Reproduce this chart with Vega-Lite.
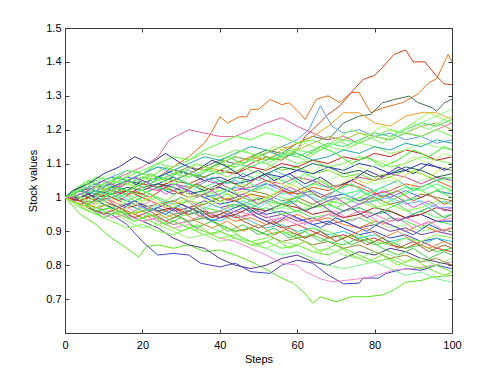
{
"$schema":"https://vega.github.io/schema/vega-lite/v6.json",
"width":387,"height":305,
"autosize":{"type":"none"},
"padding":{"left":65,"top":28,"right":46,"bottom":42},
"background":"white",
"config":{"font":"Liberation Sans","view":{"stroke":"#3a3a3a","strokeWidth":1},
"axis":{"domain":false,"grid":false,"tickColor":"#3a3a3a","tickSize":-4,"labelFontSize":11,"labelColor":"#000","titleFontSize":11,"titleFontWeight":"normal","titleColor":"#000","labelFlush":false},
"axisX":{"labelPadding":10,"titlePadding":3},
"axisY":{"labelPadding":8,"titlePadding":7}},
"resolve":{"axis":{"x":"independent","y":"independent"}},
"layer":[
{"data":{"values":[
{"s":10,"x":0,"y":1},{"s":10,"x":4,"y":1.01},{"s":10,"x":8,"y":1.03},{"s":10,"x":12,"y":1.02},{"s":10,"x":16,"y":1.05},{"s":10,"x":20,"y":1.07},{"s":10,"x":24,"y":1.06},{"s":10,"x":28,"y":1.09},{"s":10,"x":32,"y":1.12},{"s":10,"x":36,"y":1.16},{"s":10,"x":38,"y":1.195},{"s":10,"x":40,"y":1.238},{"s":10,"x":42,"y":1.22},{"s":10,"x":45,"y":1.238},{"s":10,"x":47,"y":1.238},{"s":10,"x":48,"y":1.26},{"s":10,"x":50,"y":1.26},{"s":10,"x":53,"y":1.289},{"s":10,"x":56,"y":1.274},{"s":10,"x":58,"y":1.279},{"s":10,"x":61,"y":1.245},{"s":10,"x":62,"y":1.23},{"s":10,"x":65,"y":1.29},{"s":10,"x":68,"y":1.3},{"s":10,"x":71,"y":1.28},{"s":10,"x":74,"y":1.31},{"s":10,"x":76,"y":1.31},{"s":10,"x":79,"y":1.25},{"s":10,"x":82,"y":1.264},{"s":10,"x":87,"y":1.279},{"s":10,"x":91,"y":1.304},{"s":10,"x":94,"y":1.338},{"s":10,"x":96,"y":1.35},{"s":10,"x":99,"y":1.422},{"s":10,"x":100,"y":1.4},
{"s":11,"x":0,"y":1},{"s":11,"x":4,"y":0.99},{"s":11,"x":8,"y":1.01},{"s":11,"x":12,"y":1},{"s":11,"x":16,"y":1.02},{"s":11,"x":20,"y":1.01},{"s":11,"x":24,"y":1.03},{"s":11,"x":28,"y":1.05},{"s":11,"x":32,"y":1.04},{"s":11,"x":36,"y":1.06},{"s":11,"x":40,"y":1.08},{"s":11,"x":44,"y":1.07},{"s":11,"x":48,"y":1.1},{"s":11,"x":52,"y":1.12},{"s":11,"x":56,"y":1.11},{"s":11,"x":60,"y":1.14},{"s":11,"x":62,"y":1.18},{"s":11,"x":64,"y":1.2},{"s":11,"x":68,"y":1.245},{"s":11,"x":71,"y":1.27},{"s":11,"x":74,"y":1.31},{"s":11,"x":77,"y":1.348},{"s":11,"x":80,"y":1.36},{"s":11,"x":82,"y":1.383},{"s":11,"x":85,"y":1.422},{"s":11,"x":88,"y":1.435},{"s":11,"x":90,"y":1.4},{"s":11,"x":93,"y":1.4},{"s":11,"x":96,"y":1.358},{"s":11,"x":98,"y":1.335},{"s":11,"x":100,"y":1.333},
{"s":12,"x":0,"y":1},{"s":12,"x":4,"y":1.02},{"s":12,"x":8,"y":1.01},{"s":12,"x":12,"y":1.03},{"s":12,"x":16,"y":1.05},{"s":12,"x":20,"y":1.04},{"s":12,"x":24,"y":1.06},{"s":12,"x":28,"y":1.08},{"s":12,"x":32,"y":1.07},{"s":12,"x":36,"y":1.09},{"s":12,"x":40,"y":1.11},{"s":12,"x":44,"y":1.1},{"s":12,"x":48,"y":1.12},{"s":12,"x":52,"y":1.14},{"s":12,"x":56,"y":1.13},{"s":12,"x":60,"y":1.16},{"s":12,"x":64,"y":1.18},{"s":12,"x":68,"y":1.17},{"s":12,"x":72,"y":1.22},{"s":12,"x":76,"y":1.24},{"s":12,"x":79,"y":1.245},{"s":12,"x":82,"y":1.279},{"s":12,"x":85,"y":1.289},{"s":12,"x":89,"y":1.299},{"s":12,"x":91,"y":1.281},{"s":12,"x":95,"y":1.264},{"s":12,"x":96,"y":1.254},{"s":12,"x":98,"y":1.279},{"s":12,"x":100,"y":1.29},
{"s":13,"x":0,"y":1},{"s":13,"x":4,"y":0.95},{"s":13,"x":8,"y":0.92},{"s":13,"x":12,"y":0.88},{"s":13,"x":16,"y":0.85},{"s":13,"x":19,"y":0.824},{"s":13,"x":21,"y":0.855},{"s":13,"x":24,"y":0.86},{"s":13,"x":28,"y":0.85},{"s":13,"x":32,"y":0.86},{"s":13,"x":36,"y":0.84},{"s":13,"x":40,"y":0.845},{"s":13,"x":44,"y":0.83},{"s":13,"x":47,"y":0.816},{"s":13,"x":50,"y":0.8},{"s":13,"x":53,"y":0.781},{"s":13,"x":56,"y":0.762},{"s":13,"x":59,"y":0.747},{"s":13,"x":62,"y":0.717},{"s":13,"x":64,"y":0.688},{"s":13,"x":66,"y":0.707},{"s":13,"x":70,"y":0.692},{"s":13,"x":74,"y":0.707},{"s":13,"x":78,"y":0.707},{"s":13,"x":82,"y":0.712},{"s":13,"x":85,"y":0.727},{"s":13,"x":88,"y":0.75},{"s":13,"x":92,"y":0.755},{"s":13,"x":95,"y":0.765},{"s":13,"x":100,"y":0.77},
{"s":14,"x":0,"y":1},{"s":14,"x":4,"y":0.98},{"s":14,"x":8,"y":0.96},{"s":14,"x":12,"y":0.95},{"s":14,"x":16,"y":0.92},{"s":14,"x":20,"y":0.87},{"s":14,"x":24,"y":0.83},{"s":14,"x":28,"y":0.835},{"s":14,"x":32,"y":0.83},{"s":14,"x":35,"y":0.806},{"s":14,"x":40,"y":0.795},{"s":14,"x":44,"y":0.806},{"s":14,"x":48,"y":0.781},{"s":14,"x":53,"y":0.776},{"s":14,"x":56,"y":0.8},{"s":14,"x":60,"y":0.815},{"s":14,"x":64,"y":0.806},{"s":14,"x":68,"y":0.771},{"s":14,"x":72,"y":0.745},{"s":14,"x":76,"y":0.747},{"s":14,"x":77,"y":0.762},{"s":14,"x":81,"y":0.762},{"s":14,"x":83,"y":0.776},{"s":14,"x":88,"y":0.79},{"s":14,"x":92,"y":0.785},{"s":14,"x":96,"y":0.8},{"s":14,"x":100,"y":0.79},
{"s":15,"x":0,"y":1},{"s":15,"x":4,"y":0.99},{"s":15,"x":8,"y":0.97},{"s":15,"x":12,"y":0.96},{"s":15,"x":16,"y":0.94},{"s":15,"x":20,"y":0.95},{"s":15,"x":24,"y":0.93},{"s":15,"x":28,"y":0.91},{"s":15,"x":32,"y":0.92},{"s":15,"x":36,"y":0.9},{"s":15,"x":40,"y":0.88},{"s":15,"x":44,"y":0.87},{"s":15,"x":48,"y":0.85},{"s":15,"x":52,"y":0.83},{"s":15,"x":56,"y":0.806},{"s":15,"x":60,"y":0.8},{"s":15,"x":62,"y":0.781},{"s":15,"x":66,"y":0.76},{"s":15,"x":69,"y":0.751},{"s":15,"x":73,"y":0.756},{"s":15,"x":76,"y":0.76},{"s":15,"x":79,"y":0.766},{"s":15,"x":82,"y":0.775},{"s":15,"x":85,"y":0.786},{"s":15,"x":90,"y":0.79},{"s":15,"x":95,"y":0.8},{"s":15,"x":100,"y":0.81},
{"s":16,"x":0,"y":1},{"s":16,"x":4,"y":1.01},{"s":16,"x":8,"y":0.99},{"s":16,"x":12,"y":0.97},{"s":16,"x":16,"y":0.95},{"s":16,"x":20,"y":0.93},{"s":16,"x":24,"y":0.91},{"s":16,"x":28,"y":0.88},{"s":16,"x":32,"y":0.86},{"s":16,"x":36,"y":0.85},{"s":16,"x":40,"y":0.82},{"s":16,"x":44,"y":0.8},{"s":16,"x":48,"y":0.79},{"s":16,"x":52,"y":0.8},{"s":16,"x":56,"y":0.82},{"s":16,"x":60,"y":0.83},{"s":16,"x":64,"y":0.81},{"s":16,"x":68,"y":0.8},{"s":16,"x":72,"y":0.82},{"s":16,"x":76,"y":0.84},{"s":16,"x":80,"y":0.83},{"s":16,"x":84,"y":0.85},{"s":16,"x":88,"y":0.84},{"s":16,"x":92,"y":0.82},{"s":16,"x":96,"y":0.81},{"s":16,"x":100,"y":0.8},
{"s":17,"x":0,"y":1},{"s":17,"x":4,"y":0.99},{"s":17,"x":8,"y":0.97},{"s":17,"x":12,"y":0.98},{"s":17,"x":16,"y":0.96},{"s":17,"x":20,"y":0.94},{"s":17,"x":24,"y":0.95},{"s":17,"x":28,"y":0.93},{"s":17,"x":32,"y":0.91},{"s":17,"x":36,"y":0.92},{"s":17,"x":40,"y":0.9},{"s":17,"x":44,"y":0.88},{"s":17,"x":48,"y":0.87},{"s":17,"x":52,"y":0.85},{"s":17,"x":56,"y":0.83},{"s":17,"x":60,"y":0.84},{"s":17,"x":64,"y":0.82},{"s":17,"x":68,"y":0.8},{"s":17,"x":72,"y":0.79},{"s":17,"x":76,"y":0.8},{"s":17,"x":80,"y":0.81},{"s":17,"x":84,"y":0.79},{"s":17,"x":88,"y":0.77},{"s":17,"x":92,"y":0.78},{"s":17,"x":96,"y":0.76},{"s":17,"x":100,"y":0.75},
{"s":18,"x":0,"y":1},{"s":18,"x":4,"y":1.01},{"s":18,"x":8,"y":1.03},{"s":18,"x":12,"y":1.05},{"s":18,"x":16,"y":1.07},{"s":18,"x":20,"y":1.09},{"s":18,"x":24,"y":1.12},{"s":18,"x":27,"y":1.17},{"s":18,"x":32,"y":1.2},{"s":18,"x":36,"y":1.19},{"s":18,"x":40,"y":1.18},{"s":18,"x":44,"y":1.18},{"s":18,"x":48,"y":1.2},{"s":18,"x":52,"y":1.22},{"s":18,"x":56,"y":1.235},{"s":18,"x":60,"y":1.21},{"s":18,"x":64,"y":1.19},{"s":18,"x":68,"y":1.17},{"s":18,"x":72,"y":1.18},{"s":18,"x":76,"y":1.16},{"s":18,"x":80,"y":1.18},{"s":18,"x":84,"y":1.17},{"s":18,"x":88,"y":1.19},{"s":18,"x":92,"y":1.18},{"s":18,"x":96,"y":1.2},{"s":18,"x":100,"y":1.22},
{"s":19,"x":0,"y":1},{"s":19,"x":4,"y":1.01},{"s":19,"x":8,"y":1.03},{"s":19,"x":12,"y":1.02},{"s":19,"x":16,"y":1.04},{"s":19,"x":20,"y":1.06},{"s":19,"x":24,"y":1.05},{"s":19,"x":28,"y":1.07},{"s":19,"x":32,"y":1.09},{"s":19,"x":36,"y":1.08},{"s":19,"x":40,"y":1.1},{"s":19,"x":44,"y":1.12},{"s":19,"x":48,"y":1.11},{"s":19,"x":52,"y":1.13},{"s":19,"x":56,"y":1.15},{"s":19,"x":60,"y":1.17},{"s":19,"x":63,"y":1.2},{"s":19,"x":66,"y":1.27},{"s":19,"x":69,"y":1.21},{"s":19,"x":72,"y":1.19},{"s":19,"x":76,"y":1.2},{"s":19,"x":80,"y":1.18},{"s":19,"x":84,"y":1.19},{"s":19,"x":88,"y":1.17},{"s":19,"x":92,"y":1.18},{"s":19,"x":96,"y":1.16},{"s":19,"x":100,"y":1.17},
{"s":20,"x":0,"y":1},{"s":20,"x":4,"y":0.99},{"s":20,"x":8,"y":1.01},{"s":20,"x":12,"y":1.03},{"s":20,"x":16,"y":1.02},{"s":20,"x":20,"y":1.04},{"s":20,"x":24,"y":1.06},{"s":20,"x":28,"y":1.05},{"s":20,"x":32,"y":1.07},{"s":20,"x":36,"y":1.09},{"s":20,"x":40,"y":1.08},{"s":20,"x":44,"y":1.1},{"s":20,"x":48,"y":1.12},{"s":20,"x":52,"y":1.11},{"s":20,"x":56,"y":1.14},{"s":20,"x":60,"y":1.16},{"s":20,"x":64,"y":1.18},{"s":20,"x":68,"y":1.21},{"s":20,"x":72,"y":1.25},{"s":20,"x":76,"y":1.25},{"s":20,"x":80,"y":1.22},{"s":20,"x":84,"y":1.21},{"s":20,"x":88,"y":1.24},{"s":20,"x":92,"y":1.25},{"s":20,"x":96,"y":1.25},{"s":20,"x":100,"y":1.23},
{"s":21,"x":0,"y":1},{"s":21,"x":4,"y":0.98},{"s":21,"x":8,"y":0.97},{"s":21,"x":12,"y":0.95},{"s":21,"x":16,"y":0.96},{"s":21,"x":20,"y":0.94},{"s":21,"x":24,"y":0.92},{"s":21,"x":28,"y":0.93},{"s":21,"x":32,"y":0.91},{"s":21,"x":36,"y":0.89},{"s":21,"x":40,"y":0.9},{"s":21,"x":44,"y":0.88},{"s":21,"x":48,"y":0.86},{"s":21,"x":52,"y":0.87},{"s":21,"x":56,"y":0.85},{"s":21,"x":60,"y":0.86},{"s":21,"x":64,"y":0.84},{"s":21,"x":68,"y":0.83},{"s":21,"x":72,"y":0.85},{"s":21,"x":76,"y":0.83},{"s":21,"x":80,"y":0.81},{"s":21,"x":84,"y":0.82},{"s":21,"x":88,"y":0.8},{"s":21,"x":92,"y":0.79},{"s":21,"x":96,"y":0.8},{"s":21,"x":100,"y":0.78},
{"s":22,"x":0,"y":1},{"s":22,"x":4,"y":1.01},{"s":22,"x":8,"y":0.99},{"s":22,"x":12,"y":1},{"s":22,"x":16,"y":0.98},{"s":22,"x":20,"y":0.96},{"s":22,"x":24,"y":0.97},{"s":22,"x":28,"y":0.95},{"s":22,"x":32,"y":0.93},{"s":22,"x":36,"y":0.94},{"s":22,"x":40,"y":0.92},{"s":22,"x":44,"y":0.9},{"s":22,"x":48,"y":0.91},{"s":22,"x":52,"y":0.89},{"s":22,"x":56,"y":0.87},{"s":22,"x":60,"y":0.88},{"s":22,"x":64,"y":0.86},{"s":22,"x":68,"y":0.87},{"s":22,"x":72,"y":0.85},{"s":22,"x":76,"y":0.86},{"s":22,"x":80,"y":0.84},{"s":22,"x":84,"y":0.82},{"s":22,"x":88,"y":0.83},{"s":22,"x":92,"y":0.81},{"s":22,"x":96,"y":0.82},{"s":22,"x":100,"y":0.8},
{"s":23,"x":0,"y":1},{"s":23,"x":4,"y":0.97},{"s":23,"x":8,"y":0.95},{"s":23,"x":12,"y":0.96},{"s":23,"x":16,"y":0.93},{"s":23,"x":20,"y":0.91},{"s":23,"x":24,"y":0.92},{"s":23,"x":28,"y":0.9},{"s":23,"x":32,"y":0.88},{"s":23,"x":36,"y":0.89},{"s":23,"x":40,"y":0.87},{"s":23,"x":44,"y":0.88},{"s":23,"x":48,"y":0.86},{"s":23,"x":52,"y":0.85},{"s":23,"x":56,"y":0.87},{"s":23,"x":60,"y":0.86},{"s":23,"x":64,"y":0.84},{"s":23,"x":68,"y":0.85},{"s":23,"x":72,"y":0.83},{"s":23,"x":76,"y":0.82},{"s":23,"x":80,"y":0.84},{"s":23,"x":84,"y":0.83},{"s":23,"x":88,"y":0.81},{"s":23,"x":92,"y":0.82},{"s":23,"x":96,"y":0.8},{"s":23,"x":100,"y":0.82},
{"s":24,"x":0,"y":1},{"s":24,"x":4,"y":1.02},{"s":24,"x":8,"y":1.03},{"s":24,"x":12,"y":1.01},{"s":24,"x":16,"y":1.02},{"s":24,"x":20,"y":1},{"s":24,"x":24,"y":0.98},{"s":24,"x":28,"y":0.99},{"s":24,"x":32,"y":0.97},{"s":24,"x":36,"y":0.95},{"s":24,"x":40,"y":0.96},{"s":24,"x":44,"y":0.94},{"s":24,"x":48,"y":0.95},{"s":24,"x":52,"y":0.93},{"s":24,"x":56,"y":0.91},{"s":24,"x":60,"y":0.92},{"s":24,"x":64,"y":0.9},{"s":24,"x":68,"y":0.88},{"s":24,"x":72,"y":0.89},{"s":24,"x":76,"y":0.87},{"s":24,"x":80,"y":0.88},{"s":24,"x":84,"y":0.86},{"s":24,"x":88,"y":0.85},{"s":24,"x":92,"y":0.87},{"s":24,"x":96,"y":0.85},{"s":24,"x":100,"y":0.84},
{"s":25,"x":0,"y":1},{"s":25,"x":4,"y":0.99},{"s":25,"x":8,"y":0.96},{"s":25,"x":12,"y":0.97},{"s":25,"x":16,"y":0.95},{"s":25,"x":20,"y":0.96},{"s":25,"x":24,"y":0.94},{"s":25,"x":28,"y":0.92},{"s":25,"x":32,"y":0.93},{"s":25,"x":36,"y":0.94},{"s":25,"x":40,"y":0.92},{"s":25,"x":44,"y":0.9},{"s":25,"x":48,"y":0.91},{"s":25,"x":52,"y":0.89},{"s":25,"x":56,"y":0.9},{"s":25,"x":60,"y":0.88},{"s":25,"x":64,"y":0.89},{"s":25,"x":68,"y":0.87},{"s":25,"x":72,"y":0.86},{"s":25,"x":76,"y":0.88},{"s":25,"x":80,"y":0.86},{"s":25,"x":84,"y":0.87},{"s":25,"x":88,"y":0.85},{"s":25,"x":92,"y":0.86},{"s":25,"x":96,"y":0.84},{"s":25,"x":100,"y":0.85},
{"s":26,"x":0,"y":1},{"s":26,"x":4,"y":1.01},{"s":26,"x":8,"y":1.03},{"s":26,"x":12,"y":1.04},{"s":26,"x":16,"y":1.02},{"s":26,"x":20,"y":1.05},{"s":26,"x":24,"y":1.03},{"s":26,"x":28,"y":1.01},{"s":26,"x":32,"y":1.02},{"s":26,"x":36,"y":1},{"s":26,"x":40,"y":0.98},{"s":26,"x":44,"y":0.99},{"s":26,"x":48,"y":0.97},{"s":26,"x":52,"y":0.95},{"s":26,"x":56,"y":0.96},{"s":26,"x":60,"y":0.94},{"s":26,"x":64,"y":0.92},{"s":26,"x":68,"y":0.93},{"s":26,"x":72,"y":0.91},{"s":26,"x":76,"y":0.89},{"s":26,"x":80,"y":0.9},{"s":26,"x":84,"y":0.88},{"s":26,"x":88,"y":0.89},{"s":26,"x":92,"y":0.87},{"s":26,"x":96,"y":0.88},{"s":26,"x":100,"y":0.86},
{"s":27,"x":0,"y":1},{"s":27,"x":4,"y":0.98},{"s":27,"x":8,"y":0.99},{"s":27,"x":12,"y":0.97},{"s":27,"x":16,"y":0.98},{"s":27,"x":20,"y":0.96},{"s":27,"x":24,"y":0.97},{"s":27,"x":28,"y":0.95},{"s":27,"x":32,"y":0.96},{"s":27,"x":36,"y":0.94},{"s":27,"x":40,"y":0.93},{"s":27,"x":44,"y":0.95},{"s":27,"x":48,"y":0.93},{"s":27,"x":52,"y":0.91},{"s":27,"x":56,"y":0.92},{"s":27,"x":60,"y":0.9},{"s":27,"x":64,"y":0.91},{"s":27,"x":68,"y":0.89},{"s":27,"x":72,"y":0.9},{"s":27,"x":76,"y":0.88},{"s":27,"x":80,"y":0.89},{"s":27,"x":84,"y":0.87},{"s":27,"x":88,"y":0.88},{"s":27,"x":92,"y":0.86},{"s":27,"x":96,"y":0.88},{"s":27,"x":100,"y":0.87},
{"s":28,"x":0,"y":1},{"s":28,"x":4,"y":0.97},{"s":28,"x":8,"y":0.95},{"s":28,"x":12,"y":0.93},{"s":28,"x":16,"y":0.91},{"s":28,"x":20,"y":0.92},{"s":28,"x":24,"y":0.9},{"s":28,"x":28,"y":0.89},{"s":28,"x":32,"y":0.91},{"s":28,"x":36,"y":0.9},{"s":28,"x":40,"y":0.88},{"s":28,"x":44,"y":0.89},{"s":28,"x":48,"y":0.87},{"s":28,"x":52,"y":0.88},{"s":28,"x":56,"y":0.9},{"s":28,"x":60,"y":0.89},{"s":28,"x":64,"y":0.91},{"s":28,"x":68,"y":0.9},{"s":28,"x":72,"y":0.88},{"s":28,"x":76,"y":0.89},{"s":28,"x":80,"y":0.87},{"s":28,"x":84,"y":0.86},{"s":28,"x":88,"y":0.88},{"s":28,"x":92,"y":0.87},{"s":28,"x":96,"y":0.89},{"s":28,"x":100,"y":0.88},
{"s":29,"x":0,"y":1},{"s":29,"x":4,"y":1.02},{"s":29,"x":8,"y":1},{"s":29,"x":12,"y":1.01},{"s":29,"x":16,"y":0.99},{"s":29,"x":20,"y":0.97},{"s":29,"x":24,"y":0.98},{"s":29,"x":28,"y":0.96},{"s":29,"x":32,"y":0.97},{"s":29,"x":36,"y":0.99},{"s":29,"x":40,"y":0.97},{"s":29,"x":44,"y":0.98},{"s":29,"x":48,"y":0.96},{"s":29,"x":52,"y":0.94},{"s":29,"x":56,"y":0.95},{"s":29,"x":60,"y":0.93},{"s":29,"x":64,"y":0.94},{"s":29,"x":68,"y":0.92},{"s":29,"x":72,"y":0.93},{"s":29,"x":76,"y":0.91},{"s":29,"x":80,"y":0.92},{"s":29,"x":84,"y":0.9},{"s":29,"x":88,"y":0.91},{"s":29,"x":92,"y":0.89},{"s":29,"x":96,"y":0.9},{"s":29,"x":100,"y":0.89},
{"s":30,"x":0,"y":1},{"s":30,"x":4,"y":1.03},{"s":30,"x":8,"y":1.05},{"s":30,"x":12,"y":1.07},{"s":30,"x":16,"y":1.05},{"s":30,"x":20,"y":1.06},{"s":30,"x":24,"y":1.04},{"s":30,"x":28,"y":1.02},{"s":30,"x":32,"y":1.03},{"s":30,"x":36,"y":1.01},{"s":30,"x":40,"y":1.02},{"s":30,"x":44,"y":1},{"s":30,"x":48,"y":0.98},{"s":30,"x":52,"y":0.99},{"s":30,"x":56,"y":0.97},{"s":30,"x":60,"y":0.96},{"s":30,"x":64,"y":0.98},{"s":30,"x":68,"y":0.96},{"s":30,"x":72,"y":0.94},{"s":30,"x":76,"y":0.95},{"s":30,"x":80,"y":0.93},{"s":30,"x":84,"y":0.91},{"s":30,"x":88,"y":0.92},{"s":30,"x":92,"y":0.9},{"s":30,"x":96,"y":0.91},{"s":30,"x":100,"y":0.9},
{"s":31,"x":0,"y":1},{"s":31,"x":4,"y":0.99},{"s":31,"x":8,"y":0.97},{"s":31,"x":12,"y":0.98},{"s":31,"x":16,"y":0.96},{"s":31,"x":20,"y":0.94},{"s":31,"x":24,"y":0.95},{"s":31,"x":28,"y":0.97},{"s":31,"x":32,"y":0.96},{"s":31,"x":36,"y":0.94},{"s":31,"x":40,"y":0.95},{"s":31,"x":44,"y":0.93},{"s":31,"x":48,"y":0.94},{"s":31,"x":52,"y":0.92},{"s":31,"x":56,"y":0.93},{"s":31,"x":60,"y":0.95},{"s":31,"x":64,"y":0.93},{"s":31,"x":68,"y":0.94},{"s":31,"x":72,"y":0.92},{"s":31,"x":76,"y":0.91},{"s":31,"x":80,"y":0.93},{"s":31,"x":84,"y":0.92},{"s":31,"x":88,"y":0.9},{"s":31,"x":92,"y":0.92},{"s":31,"x":96,"y":0.9},{"s":31,"x":100,"y":0.91},
{"s":32,"x":0,"y":1},{"s":32,"x":4,"y":1.01},{"s":32,"x":8,"y":0.99},{"s":32,"x":12,"y":0.97},{"s":32,"x":16,"y":0.98},{"s":32,"x":20,"y":1},{"s":32,"x":24,"y":0.98},{"s":32,"x":28,"y":0.99},{"s":32,"x":32,"y":0.97},{"s":32,"x":36,"y":0.95},{"s":32,"x":40,"y":0.96},{"s":32,"x":44,"y":0.98},{"s":32,"x":48,"y":0.96},{"s":32,"x":52,"y":0.97},{"s":32,"x":56,"y":0.95},{"s":32,"x":60,"y":0.96},{"s":32,"x":64,"y":0.94},{"s":32,"x":68,"y":0.95},{"s":32,"x":72,"y":0.93},{"s":32,"x":76,"y":0.94},{"s":32,"x":80,"y":0.92},{"s":32,"x":84,"y":0.94},{"s":32,"x":88,"y":0.93},{"s":32,"x":92,"y":0.91},{"s":32,"x":96,"y":0.93},{"s":32,"x":100,"y":0.92},
{"s":33,"x":0,"y":1},{"s":33,"x":4,"y":1.02},{"s":33,"x":8,"y":1.04},{"s":33,"x":12,"y":1.03},{"s":33,"x":16,"y":1.05},{"s":33,"x":20,"y":1.03},{"s":33,"x":24,"y":1.04},{"s":33,"x":28,"y":1.06},{"s":33,"x":32,"y":1.04},{"s":33,"x":36,"y":1.02},{"s":33,"x":40,"y":1.03},{"s":33,"x":44,"y":1.01},{"s":33,"x":48,"y":0.99},{"s":33,"x":52,"y":1},{"s":33,"x":56,"y":0.98},{"s":33,"x":60,"y":0.99},{"s":33,"x":64,"y":0.97},{"s":33,"x":68,"y":0.98},{"s":33,"x":72,"y":0.96},{"s":33,"x":76,"y":0.97},{"s":33,"x":80,"y":0.95},{"s":33,"x":84,"y":0.96},{"s":33,"x":88,"y":0.94},{"s":33,"x":92,"y":0.95},{"s":33,"x":96,"y":0.93},{"s":33,"x":100,"y":0.93},
{"s":34,"x":0,"y":1},{"s":34,"x":4,"y":0.98},{"s":34,"x":8,"y":0.96},{"s":34,"x":12,"y":0.94},{"s":34,"x":16,"y":0.95},{"s":34,"x":20,"y":0.93},{"s":34,"x":24,"y":0.94},{"s":34,"x":28,"y":0.92},{"s":34,"x":32,"y":0.93},{"s":34,"x":36,"y":0.95},{"s":34,"x":40,"y":0.94},{"s":34,"x":44,"y":0.96},{"s":34,"x":48,"y":0.95},{"s":34,"x":52,"y":0.93},{"s":34,"x":56,"y":0.94},{"s":34,"x":60,"y":0.92},{"s":34,"x":64,"y":0.93},{"s":34,"x":68,"y":0.95},{"s":34,"x":72,"y":0.94},{"s":34,"x":76,"y":0.96},{"s":34,"x":80,"y":0.95},{"s":34,"x":84,"y":0.93},{"s":34,"x":88,"y":0.94},{"s":34,"x":92,"y":0.92},{"s":34,"x":96,"y":0.93},{"s":34,"x":100,"y":0.94},
{"s":35,"x":0,"y":1},{"s":35,"x":4,"y":1.01},{"s":35,"x":8,"y":1.02},{"s":35,"x":12,"y":1},{"s":35,"x":16,"y":1.01},{"s":35,"x":20,"y":0.99},{"s":35,"x":24,"y":1},{"s":35,"x":28,"y":0.98},{"s":35,"x":32,"y":0.99},{"s":35,"x":36,"y":1.01},{"s":35,"x":40,"y":0.99},{"s":35,"x":44,"y":0.97},{"s":35,"x":48,"y":0.98},{"s":35,"x":52,"y":0.96},{"s":35,"x":56,"y":0.97},{"s":35,"x":60,"y":0.99},{"s":35,"x":64,"y":0.97},{"s":35,"x":68,"y":0.98},{"s":35,"x":72,"y":0.96},{"s":35,"x":76,"y":0.97},{"s":35,"x":80,"y":0.95},{"s":35,"x":84,"y":0.96},{"s":35,"x":88,"y":0.94},{"s":35,"x":92,"y":0.96},{"s":35,"x":96,"y":0.94},{"s":35,"x":100,"y":0.95},
{"s":36,"x":0,"y":1},{"s":36,"x":4,"y":0.99},{"s":36,"x":8,"y":1.01},{"s":36,"x":12,"y":0.99},{"s":36,"x":16,"y":0.97},{"s":36,"x":20,"y":0.98},{"s":36,"x":24,"y":0.96},{"s":36,"x":28,"y":0.97},{"s":36,"x":32,"y":0.95},{"s":36,"x":36,"y":0.96},{"s":36,"x":40,"y":0.94},{"s":36,"x":44,"y":0.95},{"s":36,"x":48,"y":0.97},{"s":36,"x":52,"y":0.96},{"s":36,"x":56,"y":0.98},{"s":36,"x":60,"y":0.97},{"s":36,"x":64,"y":0.95},{"s":36,"x":68,"y":0.96},{"s":36,"x":72,"y":0.94},{"s":36,"x":76,"y":0.95},{"s":36,"x":80,"y":0.97},{"s":36,"x":84,"y":0.96},{"s":36,"x":88,"y":0.94},{"s":36,"x":92,"y":0.95},{"s":36,"x":96,"y":0.97},{"s":36,"x":100,"y":0.96},
{"s":37,"x":0,"y":1},{"s":37,"x":4,"y":1.02},{"s":37,"x":8,"y":1.04},{"s":37,"x":12,"y":1.06},{"s":37,"x":16,"y":1.08},{"s":37,"x":20,"y":1.07},{"s":37,"x":24,"y":1.09},{"s":37,"x":28,"y":1.07},{"s":37,"x":32,"y":1.08},{"s":37,"x":36,"y":1.06},{"s":37,"x":40,"y":1.04},{"s":37,"x":44,"y":1.05},{"s":37,"x":48,"y":1.03},{"s":37,"x":52,"y":1.04},{"s":37,"x":56,"y":1.02},{"s":37,"x":60,"y":1},{"s":37,"x":64,"y":1.01},{"s":37,"x":68,"y":0.99},{"s":37,"x":72,"y":1},{"s":37,"x":76,"y":0.98},{"s":37,"x":80,"y":0.99},{"s":37,"x":84,"y":1},{"s":37,"x":88,"y":0.98},{"s":37,"x":92,"y":0.99},{"s":37,"x":96,"y":0.97},{"s":37,"x":100,"y":0.97},
{"s":38,"x":0,"y":1},{"s":38,"x":4,"y":0.98},{"s":38,"x":8,"y":0.99},{"s":38,"x":12,"y":0.97},{"s":38,"x":16,"y":0.95},{"s":38,"x":20,"y":0.96},{"s":38,"x":24,"y":0.98},{"s":38,"x":28,"y":0.97},{"s":38,"x":32,"y":0.99},{"s":38,"x":36,"y":0.98},{"s":38,"x":40,"y":1},{"s":38,"x":44,"y":0.99},{"s":38,"x":48,"y":1.01},{"s":38,"x":52,"y":1},{"s":38,"x":56,"y":0.98},{"s":38,"x":60,"y":0.99},{"s":38,"x":64,"y":0.97},{"s":38,"x":68,"y":0.98},{"s":38,"x":72,"y":1},{"s":38,"x":76,"y":0.99},{"s":38,"x":80,"y":0.97},{"s":38,"x":84,"y":0.98},{"s":38,"x":88,"y":0.96},{"s":38,"x":92,"y":0.97},{"s":38,"x":96,"y":0.99},{"s":38,"x":100,"y":0.98},
{"s":39,"x":0,"y":1},{"s":39,"x":4,"y":1.01},{"s":39,"x":8,"y":0.99},{"s":39,"x":12,"y":1},{"s":39,"x":16,"y":1.02},{"s":39,"x":20,"y":1.01},{"s":39,"x":24,"y":1.03},{"s":39,"x":28,"y":1.02},{"s":39,"x":32,"y":1},{"s":39,"x":36,"y":1.01},{"s":39,"x":40,"y":0.99},{"s":39,"x":44,"y":1},{"s":39,"x":48,"y":1.02},{"s":39,"x":52,"y":1.01},{"s":39,"x":56,"y":0.99},{"s":39,"x":60,"y":1},{"s":39,"x":64,"y":0.98},{"s":39,"x":68,"y":1},{"s":39,"x":72,"y":1.01},{"s":39,"x":76,"y":0.99},{"s":39,"x":80,"y":1},{"s":39,"x":84,"y":0.98},{"s":39,"x":88,"y":0.99},{"s":39,"x":92,"y":1.01},{"s":39,"x":96,"y":1},{"s":39,"x":100,"y":0.99},
{"s":40,"x":0,"y":1},{"s":40,"x":4,"y":0.98},{"s":40,"x":8,"y":0.96},{"s":40,"x":12,"y":0.97},{"s":40,"x":16,"y":0.95},{"s":40,"x":20,"y":0.97},{"s":40,"x":24,"y":0.96},{"s":40,"x":28,"y":0.94},{"s":40,"x":32,"y":0.95},{"s":40,"x":36,"y":0.97},{"s":40,"x":40,"y":0.96},{"s":40,"x":44,"y":0.98},{"s":40,"x":48,"y":0.97},{"s":40,"x":52,"y":0.99},{"s":40,"x":56,"y":0.98},{"s":40,"x":60,"y":0.96},{"s":40,"x":64,"y":0.97},{"s":40,"x":68,"y":0.99},{"s":40,"x":72,"y":0.98},{"s":40,"x":76,"y":1},{"s":40,"x":80,"y":0.99},{"s":40,"x":84,"y":1.01},{"s":40,"x":88,"y":0.99},{"s":40,"x":92,"y":1},{"s":40,"x":96,"y":1.02},{"s":40,"x":100,"y":1},
{"s":41,"x":0,"y":1},{"s":41,"x":4,"y":1.03},{"s":41,"x":8,"y":1.02},{"s":41,"x":12,"y":1.04},{"s":41,"x":16,"y":1.06},{"s":41,"x":20,"y":1.05},{"s":41,"x":24,"y":1.03},{"s":41,"x":28,"y":1.04},{"s":41,"x":32,"y":1.02},{"s":41,"x":36,"y":1},{"s":41,"x":40,"y":1.01},{"s":41,"x":44,"y":1.03},{"s":41,"x":48,"y":1.02},{"s":41,"x":52,"y":1.04},{"s":41,"x":56,"y":1.03},{"s":41,"x":60,"y":1.01},{"s":41,"x":64,"y":1.02},{"s":41,"x":68,"y":1},{"s":41,"x":72,"y":1.01},{"s":41,"x":76,"y":0.99},{"s":41,"x":80,"y":1.01},{"s":41,"x":84,"y":1},{"s":41,"x":88,"y":1.02},{"s":41,"x":92,"y":1},{"s":41,"x":96,"y":1.02},{"s":41,"x":100,"y":1.01},
{"s":42,"x":0,"y":1},{"s":42,"x":4,"y":1},{"s":42,"x":8,"y":0.98},{"s":42,"x":12,"y":1},{"s":42,"x":16,"y":0.99},{"s":42,"x":20,"y":1.01},{"s":42,"x":24,"y":1.03},{"s":42,"x":28,"y":1.02},{"s":42,"x":32,"y":1.04},{"s":42,"x":36,"y":1.03},{"s":42,"x":40,"y":1.05},{"s":42,"x":44,"y":1.04},{"s":42,"x":48,"y":1.02},{"s":42,"x":52,"y":1.03},{"s":42,"x":56,"y":1.01},{"s":42,"x":60,"y":1.02},{"s":42,"x":64,"y":1.04},{"s":42,"x":68,"y":1.03},{"s":42,"x":72,"y":1.01},{"s":42,"x":76,"y":1.02},{"s":42,"x":80,"y":1},{"s":42,"x":84,"y":1.01},{"s":42,"x":88,"y":1.03},{"s":42,"x":92,"y":1.02},{"s":42,"x":96,"y":1.04},{"s":42,"x":100,"y":1.02},
{"s":43,"x":0,"y":1},{"s":43,"x":4,"y":0.99},{"s":43,"x":8,"y":1.01},{"s":43,"x":12,"y":1.03},{"s":43,"x":16,"y":1.02},{"s":43,"x":20,"y":1},{"s":43,"x":24,"y":0.98},{"s":43,"x":28,"y":0.99},{"s":43,"x":32,"y":0.97},{"s":43,"x":36,"y":0.98},{"s":43,"x":40,"y":1},{"s":43,"x":44,"y":0.99},{"s":43,"x":48,"y":1.01},{"s":43,"x":52,"y":1},{"s":43,"x":56,"y":1.02},{"s":43,"x":60,"y":1.01},{"s":43,"x":64,"y":1.03},{"s":43,"x":68,"y":1.02},{"s":43,"x":72,"y":1.04},{"s":43,"x":76,"y":1.03},{"s":43,"x":80,"y":1.01},{"s":43,"x":84,"y":1.02},{"s":43,"x":88,"y":1.04},{"s":43,"x":92,"y":1.03},{"s":43,"x":96,"y":1.05},{"s":43,"x":100,"y":1.03},
{"s":44,"x":0,"y":1},{"s":44,"x":4,"y":1.02},{"s":44,"x":8,"y":1.04},{"s":44,"x":12,"y":1.03},{"s":44,"x":16,"y":1.05},{"s":44,"x":20,"y":1.07},{"s":44,"x":24,"y":1.06},{"s":44,"x":28,"y":1.08},{"s":44,"x":32,"y":1.1},{"s":44,"x":36,"y":1.09},{"s":44,"x":40,"y":1.07},{"s":44,"x":44,"y":1.08},{"s":44,"x":48,"y":1.06},{"s":44,"x":52,"y":1.07},{"s":44,"x":56,"y":1.05},{"s":44,"x":60,"y":1.06},{"s":44,"x":64,"y":1.04},{"s":44,"x":68,"y":1.05},{"s":44,"x":72,"y":1.07},{"s":44,"x":76,"y":1.06},{"s":44,"x":80,"y":1.04},{"s":44,"x":84,"y":1.05},{"s":44,"x":88,"y":1.03},{"s":44,"x":92,"y":1.05},{"s":44,"x":96,"y":1.06},{"s":44,"x":100,"y":1.04},
{"s":45,"x":0,"y":1},{"s":45,"x":4,"y":0.98},{"s":45,"x":8,"y":1},{"s":45,"x":12,"y":1.02},{"s":45,"x":16,"y":1.01},{"s":45,"x":20,"y":1.03},{"s":45,"x":24,"y":1.02},{"s":45,"x":28,"y":1.04},{"s":45,"x":32,"y":1.03},{"s":45,"x":36,"y":1.05},{"s":45,"x":40,"y":1.04},{"s":45,"x":44,"y":1.02},{"s":45,"x":48,"y":1.03},{"s":45,"x":52,"y":1.05},{"s":45,"x":56,"y":1.04},{"s":45,"x":60,"y":1.06},{"s":45,"x":64,"y":1.05},{"s":45,"x":68,"y":1.03},{"s":45,"x":72,"y":1.04},{"s":45,"x":76,"y":1.06},{"s":45,"x":80,"y":1.05},{"s":45,"x":84,"y":1.07},{"s":45,"x":88,"y":1.06},{"s":45,"x":92,"y":1.04},{"s":45,"x":96,"y":1.06},{"s":45,"x":100,"y":1.05},
{"s":46,"x":0,"y":1},{"s":46,"x":4,"y":1.01},{"s":46,"x":8,"y":1.03},{"s":46,"x":12,"y":1.05},{"s":46,"x":16,"y":1.04},{"s":46,"x":20,"y":1.06},{"s":46,"x":24,"y":1.05},{"s":46,"x":28,"y":1.07},{"s":46,"x":32,"y":1.06},{"s":46,"x":36,"y":1.08},{"s":46,"x":40,"y":1.1},{"s":46,"x":44,"y":1.09},{"s":46,"x":48,"y":1.11},{"s":46,"x":52,"y":1.1},{"s":46,"x":56,"y":1.08},{"s":46,"x":60,"y":1.09},{"s":46,"x":64,"y":1.07},{"s":46,"x":68,"y":1.08},{"s":46,"x":72,"y":1.06},{"s":46,"x":76,"y":1.07},{"s":46,"x":80,"y":1.05},{"s":46,"x":84,"y":1.06},{"s":46,"x":88,"y":1.08},{"s":46,"x":92,"y":1.07},{"s":46,"x":96,"y":1.05},{"s":46,"x":100,"y":1.06},
{"s":47,"x":0,"y":1},{"s":47,"x":4,"y":1},{"s":47,"x":8,"y":1.02},{"s":47,"x":12,"y":1.01},{"s":47,"x":16,"y":1.03},{"s":47,"x":20,"y":1.02},{"s":47,"x":24,"y":1.04},{"s":47,"x":28,"y":1.03},{"s":47,"x":32,"y":1.01},{"s":47,"x":36,"y":1.02},{"s":47,"x":40,"y":1.04},{"s":47,"x":44,"y":1.06},{"s":47,"x":48,"y":1.05},{"s":47,"x":52,"y":1.07},{"s":47,"x":56,"y":1.09},{"s":47,"x":60,"y":1.08},{"s":47,"x":64,"y":1.1},{"s":47,"x":68,"y":1.09},{"s":47,"x":72,"y":1.07},{"s":47,"x":76,"y":1.08},{"s":47,"x":80,"y":1.06},{"s":47,"x":84,"y":1.07},{"s":47,"x":88,"y":1.09},{"s":47,"x":92,"y":1.08},{"s":47,"x":96,"y":1.06},{"s":47,"x":100,"y":1.07},
{"s":48,"x":0,"y":1},{"s":48,"x":4,"y":1.02},{"s":48,"x":8,"y":1.01},{"s":48,"x":12,"y":1.03},{"s":48,"x":16,"y":1.05},{"s":48,"x":20,"y":1.04},{"s":48,"x":24,"y":1.06},{"s":48,"x":28,"y":1.08},{"s":48,"x":32,"y":1.07},{"s":48,"x":36,"y":1.05},{"s":48,"x":40,"y":1.06},{"s":48,"x":44,"y":1.04},{"s":48,"x":48,"y":1.05},{"s":48,"x":52,"y":1.07},{"s":48,"x":56,"y":1.06},{"s":48,"x":60,"y":1.08},{"s":48,"x":64,"y":1.07},{"s":48,"x":68,"y":1.09},{"s":48,"x":72,"y":1.08},{"s":48,"x":76,"y":1.1},{"s":48,"x":80,"y":1.09},{"s":48,"x":84,"y":1.07},{"s":48,"x":88,"y":1.08},{"s":48,"x":92,"y":1.1},{"s":48,"x":96,"y":1.09},{"s":48,"x":100,"y":1.08},
{"s":49,"x":0,"y":1},{"s":49,"x":4,"y":1.03},{"s":49,"x":8,"y":1.05},{"s":49,"x":12,"y":1.04},{"s":49,"x":16,"y":1.06},{"s":49,"x":20,"y":1.08},{"s":49,"x":24,"y":1.1},{"s":49,"x":28,"y":1.09},{"s":49,"x":32,"y":1.11},{"s":49,"x":36,"y":1.13},{"s":49,"x":40,"y":1.12},{"s":49,"x":44,"y":1.14},{"s":49,"x":48,"y":1.13},{"s":49,"x":52,"y":1.11},{"s":49,"x":56,"y":1.12},{"s":49,"x":60,"y":1.1},{"s":49,"x":64,"y":1.11},{"s":49,"x":68,"y":1.09},{"s":49,"x":72,"y":1.1},{"s":49,"x":76,"y":1.12},{"s":49,"x":80,"y":1.11},{"s":49,"x":84,"y":1.09},{"s":49,"x":88,"y":1.1},{"s":49,"x":92,"y":1.12},{"s":49,"x":96,"y":1.11},{"s":49,"x":100,"y":1.1},
{"s":50,"x":0,"y":1},{"s":50,"x":4,"y":0.99},{"s":50,"x":8,"y":1.01},{"s":50,"x":12,"y":1},{"s":50,"x":16,"y":1.02},{"s":50,"x":20,"y":1.04},{"s":50,"x":24,"y":1.03},{"s":50,"x":28,"y":1.05},{"s":50,"x":32,"y":1.07},{"s":50,"x":36,"y":1.06},{"s":50,"x":40,"y":1.08},{"s":50,"x":44,"y":1.07},{"s":50,"x":48,"y":1.09},{"s":50,"x":52,"y":1.08},{"s":50,"x":56,"y":1.1},{"s":50,"x":60,"y":1.09},{"s":50,"x":64,"y":1.11},{"s":50,"x":68,"y":1.1},{"s":50,"x":72,"y":1.12},{"s":50,"x":76,"y":1.11},{"s":50,"x":80,"y":1.13},{"s":50,"x":84,"y":1.12},{"s":50,"x":88,"y":1.14},{"s":50,"x":92,"y":1.13},{"s":50,"x":96,"y":1.11},{"s":50,"x":100,"y":1.12},
{"s":51,"x":0,"y":1},{"s":51,"x":4,"y":1.01},{"s":51,"x":8,"y":1},{"s":51,"x":12,"y":1.02},{"s":51,"x":16,"y":1.04},{"s":51,"x":20,"y":1.03},{"s":51,"x":24,"y":1.05},{"s":51,"x":28,"y":1.04},{"s":51,"x":32,"y":1.06},{"s":51,"x":36,"y":1.08},{"s":51,"x":40,"y":1.07},{"s":51,"x":44,"y":1.09},{"s":51,"x":48,"y":1.11},{"s":51,"x":52,"y":1.1},{"s":51,"x":56,"y":1.12},{"s":51,"x":60,"y":1.14},{"s":51,"x":64,"y":1.13},{"s":51,"x":68,"y":1.15},{"s":51,"x":72,"y":1.14},{"s":51,"x":76,"y":1.16},{"s":51,"x":80,"y":1.15},{"s":51,"x":84,"y":1.13},{"s":51,"x":88,"y":1.14},{"s":51,"x":92,"y":1.16},{"s":51,"x":96,"y":1.15},{"s":51,"x":100,"y":1.14},
{"s":52,"x":0,"y":1},{"s":52,"x":4,"y":1.02},{"s":52,"x":8,"y":1.04},{"s":52,"x":12,"y":1.06},{"s":52,"x":16,"y":1.05},{"s":52,"x":20,"y":1.07},{"s":52,"x":24,"y":1.09},{"s":52,"x":28,"y":1.08},{"s":52,"x":32,"y":1.1},{"s":52,"x":36,"y":1.12},{"s":52,"x":40,"y":1.11},{"s":52,"x":44,"y":1.13},{"s":52,"x":48,"y":1.15},{"s":52,"x":52,"y":1.14},{"s":52,"x":56,"y":1.12},{"s":52,"x":60,"y":1.13},{"s":52,"x":64,"y":1.11},{"s":52,"x":68,"y":1.12},{"s":52,"x":72,"y":1.14},{"s":52,"x":76,"y":1.13},{"s":52,"x":80,"y":1.15},{"s":52,"x":84,"y":1.14},{"s":52,"x":88,"y":1.16},{"s":52,"x":92,"y":1.15},{"s":52,"x":96,"y":1.17},{"s":52,"x":100,"y":1.16},
{"s":53,"x":0,"y":1},{"s":53,"x":4,"y":1.03},{"s":53,"x":8,"y":1.06},{"s":53,"x":12,"y":1.05},{"s":53,"x":16,"y":1.08},{"s":53,"x":20,"y":1.07},{"s":53,"x":24,"y":1.1},{"s":53,"x":28,"y":1.12},{"s":53,"x":32,"y":1.11},{"s":53,"x":36,"y":1.14},{"s":53,"x":40,"y":1.16},{"s":53,"x":44,"y":1.18},{"s":53,"x":48,"y":1.17},{"s":53,"x":52,"y":1.19},{"s":53,"x":56,"y":1.18},{"s":53,"x":60,"y":1.16},{"s":53,"x":64,"y":1.17},{"s":53,"x":68,"y":1.15},{"s":53,"x":72,"y":1.17},{"s":53,"x":76,"y":1.16},{"s":53,"x":80,"y":1.18},{"s":53,"x":84,"y":1.17},{"s":53,"x":88,"y":1.19},{"s":53,"x":92,"y":1.18},{"s":53,"x":96,"y":1.2},{"s":53,"x":100,"y":1.18},
{"s":54,"x":0,"y":1},{"s":54,"x":4,"y":1.01},{"s":54,"x":8,"y":1.03},{"s":54,"x":12,"y":1.02},{"s":54,"x":16,"y":1.04},{"s":54,"x":20,"y":1.06},{"s":54,"x":24,"y":1.05},{"s":54,"x":28,"y":1.07},{"s":54,"x":32,"y":1.09},{"s":54,"x":36,"y":1.08},{"s":54,"x":40,"y":1.1},{"s":54,"x":44,"y":1.12},{"s":54,"x":48,"y":1.11},{"s":54,"x":52,"y":1.13},{"s":54,"x":56,"y":1.15},{"s":54,"x":60,"y":1.14},{"s":54,"x":64,"y":1.16},{"s":54,"x":68,"y":1.18},{"s":54,"x":72,"y":1.17},{"s":54,"x":76,"y":1.19},{"s":54,"x":80,"y":1.18},{"s":54,"x":84,"y":1.2},{"s":54,"x":88,"y":1.19},{"s":54,"x":92,"y":1.21},{"s":54,"x":96,"y":1.22},{"s":54,"x":100,"y":1.2},
{"s":55,"x":0,"y":1},{"s":55,"x":4,"y":1.02},{"s":55,"x":8,"y":1.01},{"s":55,"x":12,"y":1.03},{"s":55,"x":16,"y":1.02},{"s":55,"x":20,"y":1.04},{"s":55,"x":24,"y":1.06},{"s":55,"x":28,"y":1.05},{"s":55,"x":32,"y":1.07},{"s":55,"x":36,"y":1.06},{"s":55,"x":40,"y":1.08},{"s":55,"x":44,"y":1.1},{"s":55,"x":48,"y":1.09},{"s":55,"x":52,"y":1.11},{"s":55,"x":56,"y":1.13},{"s":55,"x":60,"y":1.12},{"s":55,"x":64,"y":1.14},{"s":55,"x":68,"y":1.16},{"s":55,"x":72,"y":1.15},{"s":55,"x":76,"y":1.17},{"s":55,"x":80,"y":1.19},{"s":55,"x":84,"y":1.18},{"s":55,"x":88,"y":1.2},{"s":55,"x":92,"y":1.22},{"s":55,"x":96,"y":1.21},{"s":55,"x":100,"y":1.23},
{"s":56,"x":0,"y":1},{"s":56,"x":4,"y":1.01},{"s":56,"x":8,"y":1.03},{"s":56,"x":12,"y":1.05},{"s":56,"x":16,"y":1.04},{"s":56,"x":20,"y":1.06},{"s":56,"x":24,"y":1.05},{"s":56,"x":28,"y":1.07},{"s":56,"x":32,"y":1.06},{"s":56,"x":36,"y":1.08},{"s":56,"x":40,"y":1.07},{"s":56,"x":44,"y":1.09},{"s":56,"x":48,"y":1.11},{"s":56,"x":52,"y":1.1},{"s":56,"x":56,"y":1.12},{"s":56,"x":60,"y":1.14},{"s":56,"x":64,"y":1.13},{"s":56,"x":68,"y":1.15},{"s":56,"x":72,"y":1.17},{"s":56,"x":76,"y":1.16},{"s":56,"x":80,"y":1.18},{"s":56,"x":84,"y":1.2},{"s":56,"x":88,"y":1.19},{"s":56,"x":92,"y":1.22},{"s":56,"x":96,"y":1.24},{"s":56,"x":100,"y":1.26},
{"s":57,"x":0,"y":1},{"s":57,"x":2,"y":1.01},{"s":57,"x":6,"y":0.99},{"s":57,"x":10,"y":1.02},{"s":57,"x":14,"y":1},{"s":57,"x":18,"y":1.03},{"s":57,"x":22,"y":1.01},{"s":57,"x":26,"y":0.99},{"s":57,"x":30,"y":1.02},{"s":57,"x":34,"y":1.04},{"s":57,"x":38,"y":1.01},{"s":57,"x":42,"y":1.03},{"s":57,"x":46,"y":1},{"s":57,"x":50,"y":0.98},{"s":57,"x":54,"y":1.01},{"s":57,"x":58,"y":0.99},{"s":57,"x":62,"y":1.02},{"s":57,"x":66,"y":1},{"s":57,"x":70,"y":0.97},{"s":57,"x":74,"y":0.99},{"s":57,"x":78,"y":1.01},{"s":57,"x":82,"y":0.98},{"s":57,"x":86,"y":1},{"s":57,"x":90,"y":1.03},{"s":57,"x":94,"y":1.01},{"s":57,"x":98,"y":1.03},{"s":57,"x":100,"y":1.02},
{"s":58,"x":0,"y":1},{"s":58,"x":2,"y":0.99},{"s":58,"x":6,"y":1.01},{"s":58,"x":10,"y":0.98},{"s":58,"x":14,"y":0.96},{"s":58,"x":18,"y":0.99},{"s":58,"x":22,"y":0.97},{"s":58,"x":26,"y":0.95},{"s":58,"x":30,"y":0.98},{"s":58,"x":34,"y":0.96},{"s":58,"x":38,"y":0.93},{"s":58,"x":42,"y":0.95},{"s":58,"x":46,"y":0.97},{"s":58,"x":50,"y":0.94},{"s":58,"x":54,"y":0.92},{"s":58,"x":58,"y":0.95},{"s":58,"x":62,"y":0.93},{"s":58,"x":66,"y":0.91},{"s":58,"x":70,"y":0.94},{"s":58,"x":74,"y":0.92},{"s":58,"x":78,"y":0.9},{"s":58,"x":82,"y":0.93},{"s":58,"x":86,"y":0.91},{"s":58,"x":90,"y":0.89},{"s":58,"x":94,"y":0.92},{"s":58,"x":98,"y":0.9},{"s":58,"x":100,"y":0.91},
{"s":59,"x":0,"y":1},{"s":59,"x":2,"y":1.01},{"s":59,"x":6,"y":1.04},{"s":59,"x":10,"y":1.02},{"s":59,"x":14,"y":1.05},{"s":59,"x":18,"y":1.03},{"s":59,"x":22,"y":1.06},{"s":59,"x":26,"y":1.09},{"s":59,"x":30,"y":1.07},{"s":59,"x":34,"y":1.1},{"s":59,"x":38,"y":1.08},{"s":59,"x":42,"y":1.11},{"s":59,"x":46,"y":1.14},{"s":59,"x":50,"y":1.12},{"s":59,"x":54,"y":1.15},{"s":59,"x":58,"y":1.13},{"s":59,"x":62,"y":1.16},{"s":59,"x":66,"y":1.14},{"s":59,"x":70,"y":1.17},{"s":59,"x":74,"y":1.2},{"s":59,"x":78,"y":1.18},{"s":59,"x":82,"y":1.21},{"s":59,"x":86,"y":1.19},{"s":59,"x":90,"y":1.22},{"s":59,"x":94,"y":1.25},{"s":59,"x":98,"y":1.23},{"s":59,"x":100,"y":1.24},
{"s":60,"x":0,"y":1},{"s":60,"x":2,"y":1},{"s":60,"x":6,"y":0.98},{"s":60,"x":10,"y":1.01},{"s":60,"x":14,"y":0.99},{"s":60,"x":18,"y":1.02},{"s":60,"x":22,"y":1},{"s":60,"x":26,"y":1.03},{"s":60,"x":30,"y":1.01},{"s":60,"x":34,"y":1.04},{"s":60,"x":38,"y":1.02},{"s":60,"x":42,"y":1.05},{"s":60,"x":46,"y":1.03},{"s":60,"x":50,"y":1.06},{"s":60,"x":54,"y":1.04},{"s":60,"x":58,"y":1.01},{"s":60,"x":62,"y":1.03},{"s":60,"x":66,"y":1},{"s":60,"x":70,"y":1.02},{"s":60,"x":74,"y":1.05},{"s":60,"x":78,"y":1.03},{"s":60,"x":82,"y":1},{"s":60,"x":86,"y":1.02},{"s":60,"x":90,"y":0.99},{"s":60,"x":94,"y":1.01},{"s":60,"x":98,"y":0.98},{"s":60,"x":100,"y":0.99},
{"s":61,"x":0,"y":1},{"s":61,"x":2,"y":0.99},{"s":61,"x":6,"y":0.97},{"s":61,"x":10,"y":0.94},{"s":61,"x":14,"y":0.96},{"s":61,"x":18,"y":0.93},{"s":61,"x":22,"y":0.95},{"s":61,"x":26,"y":0.92},{"s":61,"x":30,"y":0.94},{"s":61,"x":34,"y":0.91},{"s":61,"x":38,"y":0.93},{"s":61,"x":42,"y":0.9},{"s":61,"x":46,"y":0.92},{"s":61,"x":50,"y":0.89},{"s":61,"x":54,"y":0.91},{"s":61,"x":58,"y":0.88},{"s":61,"x":62,"y":0.9},{"s":61,"x":66,"y":0.87},{"s":61,"x":70,"y":0.89},{"s":61,"x":74,"y":0.86},{"s":61,"x":78,"y":0.88},{"s":61,"x":82,"y":0.85},{"s":61,"x":86,"y":0.83},{"s":61,"x":90,"y":0.85},{"s":61,"x":94,"y":0.82},{"s":61,"x":98,"y":0.84},{"s":61,"x":100,"y":0.83},
{"s":62,"x":0,"y":1},{"s":62,"x":2,"y":1.01},{"s":62,"x":6,"y":1.03},{"s":62,"x":10,"y":1.01},{"s":62,"x":14,"y":1.04},{"s":62,"x":18,"y":1.06},{"s":62,"x":22,"y":1.04},{"s":62,"x":26,"y":1.07},{"s":62,"x":30,"y":1.05},{"s":62,"x":34,"y":1.03},{"s":62,"x":38,"y":1.06},{"s":62,"x":42,"y":1.04},{"s":62,"x":46,"y":1.07},{"s":62,"x":50,"y":1.05},{"s":62,"x":54,"y":1.08},{"s":62,"x":58,"y":1.06},{"s":62,"x":62,"y":1.03},{"s":62,"x":66,"y":1.05},{"s":62,"x":70,"y":1.02},{"s":62,"x":74,"y":1.04},{"s":62,"x":78,"y":1.01},{"s":62,"x":82,"y":1.03},{"s":62,"x":86,"y":1.05},{"s":62,"x":90,"y":1.02},{"s":62,"x":94,"y":1.04},{"s":62,"x":98,"y":1.06},{"s":62,"x":100,"y":1.05},
{"s":63,"x":0,"y":1},{"s":63,"x":2,"y":0.99},{"s":63,"x":6,"y":0.97},{"s":63,"x":10,"y":1},{"s":63,"x":14,"y":0.98},{"s":63,"x":18,"y":0.96},{"s":63,"x":22,"y":0.99},{"s":63,"x":26,"y":0.97},{"s":63,"x":30,"y":1},{"s":63,"x":34,"y":0.98},{"s":63,"x":38,"y":0.95},{"s":63,"x":42,"y":0.97},{"s":63,"x":46,"y":0.94},{"s":63,"x":50,"y":0.96},{"s":63,"x":54,"y":0.93},{"s":63,"x":58,"y":0.95},{"s":63,"x":62,"y":0.92},{"s":63,"x":66,"y":0.94},{"s":63,"x":70,"y":0.96},{"s":63,"x":74,"y":0.93},{"s":63,"x":78,"y":0.95},{"s":63,"x":82,"y":0.92},{"s":63,"x":86,"y":0.94},{"s":63,"x":90,"y":0.91},{"s":63,"x":94,"y":0.93},{"s":63,"x":98,"y":0.9},{"s":63,"x":100,"y":0.91},
{"s":64,"x":0,"y":1},{"s":64,"x":2,"y":1.02},{"s":64,"x":6,"y":1.05},{"s":64,"x":10,"y":1.03},{"s":64,"x":14,"y":1.06},{"s":64,"x":18,"y":1.04},{"s":64,"x":22,"y":1.07},{"s":64,"x":26,"y":1.05},{"s":64,"x":30,"y":1.08},{"s":64,"x":34,"y":1.06},{"s":64,"x":38,"y":1.09},{"s":64,"x":42,"y":1.12},{"s":64,"x":46,"y":1.1},{"s":64,"x":50,"y":1.13},{"s":64,"x":54,"y":1.11},{"s":64,"x":58,"y":1.14},{"s":64,"x":62,"y":1.12},{"s":64,"x":66,"y":1.15},{"s":64,"x":70,"y":1.13},{"s":64,"x":74,"y":1.1},{"s":64,"x":78,"y":1.12},{"s":64,"x":82,"y":1.09},{"s":64,"x":86,"y":1.11},{"s":64,"x":90,"y":1.14},{"s":64,"x":94,"y":1.12},{"s":64,"x":98,"y":1.15},{"s":64,"x":100,"y":1.14},
{"s":65,"x":0,"y":1},{"s":65,"x":2,"y":0.99},{"s":65,"x":6,"y":1.01},{"s":65,"x":10,"y":0.99},{"s":65,"x":14,"y":0.97},{"s":65,"x":18,"y":0.99},{"s":65,"x":22,"y":0.96},{"s":65,"x":26,"y":0.98},{"s":65,"x":30,"y":0.95},{"s":65,"x":34,"y":0.97},{"s":65,"x":38,"y":0.94},{"s":65,"x":42,"y":0.96},{"s":65,"x":46,"y":0.98},{"s":65,"x":50,"y":0.95},{"s":65,"x":54,"y":0.97},{"s":65,"x":58,"y":0.99},{"s":65,"x":62,"y":0.96},{"s":65,"x":66,"y":0.98},{"s":65,"x":70,"y":0.95},{"s":65,"x":74,"y":0.97},{"s":65,"x":78,"y":0.94},{"s":65,"x":82,"y":0.96},{"s":65,"x":86,"y":0.93},{"s":65,"x":90,"y":0.95},{"s":65,"x":94,"y":0.97},{"s":65,"x":98,"y":0.94},{"s":65,"x":100,"y":0.95},
{"s":66,"x":0,"y":1},{"s":66,"x":2,"y":1.01},{"s":66,"x":6,"y":0.99},{"s":66,"x":10,"y":1.01},{"s":66,"x":14,"y":0.98},{"s":66,"x":18,"y":1},{"s":66,"x":22,"y":0.97},{"s":66,"x":26,"y":0.99},{"s":66,"x":30,"y":1.02},{"s":66,"x":34,"y":1},{"s":66,"x":38,"y":1.03},{"s":66,"x":42,"y":1.01},{"s":66,"x":46,"y":1.04},{"s":66,"x":50,"y":1.02},{"s":66,"x":54,"y":1.05},{"s":66,"x":58,"y":1.03},{"s":66,"x":62,"y":1.06},{"s":66,"x":66,"y":1.09},{"s":66,"x":70,"y":1.07},{"s":66,"x":74,"y":1.1},{"s":66,"x":78,"y":1.08},{"s":66,"x":82,"y":1.11},{"s":66,"x":86,"y":1.09},{"s":66,"x":90,"y":1.12},{"s":66,"x":94,"y":1.1},{"s":66,"x":98,"y":1.13},{"s":66,"x":100,"y":1.12},
{"s":67,"x":0,"y":1},{"s":67,"x":2,"y":1.01},{"s":67,"x":6,"y":0.98},{"s":67,"x":10,"y":1},{"s":67,"x":14,"y":0.97},{"s":67,"x":18,"y":0.95},{"s":67,"x":22,"y":0.97},{"s":67,"x":26,"y":0.94},{"s":67,"x":30,"y":0.96},{"s":67,"x":34,"y":0.93},{"s":67,"x":38,"y":0.91},{"s":67,"x":42,"y":0.93},{"s":67,"x":46,"y":0.9},{"s":67,"x":50,"y":0.92},{"s":67,"x":54,"y":0.89},{"s":67,"x":58,"y":0.91},{"s":67,"x":62,"y":0.88},{"s":67,"x":66,"y":0.9},{"s":67,"x":70,"y":0.87},{"s":67,"x":74,"y":0.89},{"s":67,"x":78,"y":0.91},{"s":67,"x":82,"y":0.88},{"s":67,"x":86,"y":0.9},{"s":67,"x":90,"y":0.87},{"s":67,"x":94,"y":0.85},{"s":67,"x":98,"y":0.87},{"s":67,"x":100,"y":0.86},
{"s":68,"x":0,"y":1},{"s":68,"x":2,"y":1.01},{"s":68,"x":6,"y":1.03},{"s":68,"x":10,"y":1},{"s":68,"x":14,"y":1.02},{"s":68,"x":18,"y":0.99},{"s":68,"x":22,"y":1.01},{"s":68,"x":26,"y":0.98},{"s":68,"x":30,"y":1},{"s":68,"x":34,"y":0.97},{"s":68,"x":38,"y":0.99},{"s":68,"x":42,"y":1.01},{"s":68,"x":46,"y":0.98},{"s":68,"x":50,"y":1},{"s":68,"x":54,"y":0.97},{"s":68,"x":58,"y":0.99},{"s":68,"x":62,"y":1.01},{"s":68,"x":66,"y":0.98},{"s":68,"x":70,"y":1},{"s":68,"x":74,"y":0.97},{"s":68,"x":78,"y":0.99},{"s":68,"x":82,"y":0.96},{"s":68,"x":86,"y":0.98},{"s":68,"x":90,"y":0.95},{"s":68,"x":94,"y":0.97},{"s":68,"x":98,"y":0.94},{"s":68,"x":100,"y":0.95},
{"s":69,"x":0,"y":1},{"s":69,"x":2,"y":1.02},{"s":69,"x":6,"y":1.04},{"s":69,"x":10,"y":1.07},{"s":69,"x":14,"y":1.09},{"s":69,"x":18,"y":1.12},{"s":69,"x":22,"y":1.1},{"s":69,"x":26,"y":1.13},{"s":69,"x":30,"y":1.1},{"s":69,"x":34,"y":1.08},{"s":69,"x":38,"y":1.11},{"s":69,"x":42,"y":1.09},{"s":69,"x":46,"y":1.06},{"s":69,"x":50,"y":1.08},{"s":69,"x":54,"y":1.05},{"s":69,"x":58,"y":1.07},{"s":69,"x":62,"y":1.04},{"s":69,"x":66,"y":1.06},{"s":69,"x":70,"y":1.03},{"s":69,"x":74,"y":1.05},{"s":69,"x":78,"y":1.08},{"s":69,"x":82,"y":1.06},{"s":69,"x":86,"y":1.09},{"s":69,"x":90,"y":1.07},{"s":69,"x":94,"y":1.1},{"s":69,"x":98,"y":1.08},{"s":69,"x":100,"y":1.09},
{"s":70,"x":0,"y":1},{"s":70,"x":2,"y":0.99},{"s":70,"x":6,"y":0.96},{"s":70,"x":10,"y":0.98},{"s":70,"x":14,"y":0.95},{"s":70,"x":18,"y":0.93},{"s":70,"x":22,"y":0.95},{"s":70,"x":26,"y":0.92},{"s":70,"x":30,"y":0.9},{"s":70,"x":34,"y":0.92},{"s":70,"x":38,"y":0.89},{"s":70,"x":42,"y":0.91},{"s":70,"x":46,"y":0.88},{"s":70,"x":50,"y":0.86},{"s":70,"x":54,"y":0.88},{"s":70,"x":58,"y":0.85},{"s":70,"x":62,"y":0.87},{"s":70,"x":66,"y":0.84},{"s":70,"x":70,"y":0.86},{"s":70,"x":74,"y":0.83},{"s":70,"x":78,"y":0.81},{"s":70,"x":82,"y":0.83},{"s":70,"x":86,"y":0.8},{"s":70,"x":90,"y":0.82},{"s":70,"x":94,"y":0.79},{"s":70,"x":98,"y":0.77},{"s":70,"x":100,"y":0.78},
{"s":71,"x":0,"y":1},{"s":71,"x":2,"y":1},{"s":71,"x":6,"y":1.02},{"s":71,"x":10,"y":0.99},{"s":71,"x":14,"y":1.01},{"s":71,"x":18,"y":0.98},{"s":71,"x":22,"y":0.96},{"s":71,"x":26,"y":0.99},{"s":71,"x":30,"y":0.97},{"s":71,"x":34,"y":0.95},{"s":71,"x":38,"y":0.98},{"s":71,"x":42,"y":0.96},{"s":71,"x":46,"y":0.99},{"s":71,"x":50,"y":0.97},{"s":71,"x":54,"y":1},{"s":71,"x":58,"y":0.98},{"s":71,"x":62,"y":1.01},{"s":71,"x":66,"y":0.99},{"s":71,"x":70,"y":1.02},{"s":71,"x":74,"y":1},{"s":71,"x":78,"y":1.03},{"s":71,"x":82,"y":1.01},{"s":71,"x":86,"y":0.98},{"s":71,"x":90,"y":1},{"s":71,"x":94,"y":0.97},{"s":71,"x":98,"y":0.99},{"s":71,"x":100,"y":0.98},
{"s":72,"x":0,"y":1},{"s":72,"x":2,"y":1.01},{"s":72,"x":6,"y":1.04},{"s":72,"x":10,"y":1.02},{"s":72,"x":14,"y":1.05},{"s":72,"x":18,"y":1.08},{"s":72,"x":22,"y":1.06},{"s":72,"x":26,"y":1.09},{"s":72,"x":30,"y":1.07},{"s":72,"x":34,"y":1.1},{"s":72,"x":38,"y":1.08},{"s":72,"x":42,"y":1.06},{"s":72,"x":46,"y":1.09},{"s":72,"x":50,"y":1.07},{"s":72,"x":54,"y":1.1},{"s":72,"x":58,"y":1.13},{"s":72,"x":62,"y":1.11},{"s":72,"x":66,"y":1.14},{"s":72,"x":70,"y":1.17},{"s":72,"x":74,"y":1.15},{"s":72,"x":78,"y":1.18},{"s":72,"x":82,"y":1.16},{"s":72,"x":86,"y":1.19},{"s":72,"x":90,"y":1.22},{"s":72,"x":94,"y":1.2},{"s":72,"x":98,"y":1.23},{"s":72,"x":100,"y":1.22},
{"s":73,"x":0,"y":1},{"s":73,"x":2,"y":0.99},{"s":73,"x":6,"y":0.97},{"s":73,"x":10,"y":0.95},{"s":73,"x":14,"y":0.97},{"s":73,"x":18,"y":0.94},{"s":73,"x":22,"y":0.96},{"s":73,"x":26,"y":0.93},{"s":73,"x":30,"y":0.95},{"s":73,"x":34,"y":0.97},{"s":73,"x":38,"y":0.94},{"s":73,"x":42,"y":0.96},{"s":73,"x":46,"y":0.93},{"s":73,"x":50,"y":0.91},{"s":73,"x":54,"y":0.93},{"s":73,"x":58,"y":0.9},{"s":73,"x":62,"y":0.88},{"s":73,"x":66,"y":0.9},{"s":73,"x":70,"y":0.87},{"s":73,"x":74,"y":0.89},{"s":73,"x":78,"y":0.86},{"s":73,"x":82,"y":0.88},{"s":73,"x":86,"y":0.85},{"s":73,"x":90,"y":0.87},{"s":73,"x":94,"y":0.84},{"s":73,"x":98,"y":0.86},{"s":73,"x":100,"y":0.85},
{"s":74,"x":0,"y":1},{"s":74,"x":2,"y":1.01},{"s":74,"x":6,"y":0.98},{"s":74,"x":10,"y":1},{"s":74,"x":14,"y":1.03},{"s":74,"x":18,"y":1.01},{"s":74,"x":22,"y":1.04},{"s":74,"x":26,"y":1.02},{"s":74,"x":30,"y":1.05},{"s":74,"x":34,"y":1.03},{"s":74,"x":38,"y":1},{"s":74,"x":42,"y":1.02},{"s":74,"x":46,"y":1.05},{"s":74,"x":50,"y":1.03},{"s":74,"x":54,"y":1.06},{"s":74,"x":58,"y":1.04},{"s":74,"x":62,"y":1.07},{"s":74,"x":66,"y":1.05},{"s":74,"x":70,"y":1.02},{"s":74,"x":74,"y":1.04},{"s":74,"x":78,"y":1.01},{"s":74,"x":82,"y":1.03},{"s":74,"x":86,"y":1},{"s":74,"x":90,"y":1.02},{"s":74,"x":94,"y":1.04},{"s":74,"x":98,"y":1.01},{"s":74,"x":100,"y":1.02},
{"s":75,"x":0,"y":1},{"s":75,"x":2,"y":1},{"s":75,"x":6,"y":1.02},{"s":75,"x":10,"y":1.05},{"s":75,"x":14,"y":1.03},{"s":75,"x":18,"y":1.06},{"s":75,"x":22,"y":1.04},{"s":75,"x":26,"y":1.01},{"s":75,"x":30,"y":1.03},{"s":75,"x":34,"y":1},{"s":75,"x":38,"y":1.02},{"s":75,"x":42,"y":0.99},{"s":75,"x":46,"y":1.01},{"s":75,"x":50,"y":0.98},{"s":75,"x":54,"y":1},{"s":75,"x":58,"y":1.03},{"s":75,"x":62,"y":1.01},{"s":75,"x":66,"y":0.98},{"s":75,"x":70,"y":1},{"s":75,"x":74,"y":0.97},{"s":75,"x":78,"y":0.99},{"s":75,"x":82,"y":1.02},{"s":75,"x":86,"y":1},{"s":75,"x":90,"y":0.97},{"s":75,"x":94,"y":0.99},{"s":75,"x":98,"y":0.96},{"s":75,"x":100,"y":0.97},
{"s":76,"x":0,"y":1},{"s":76,"x":2,"y":0.99},{"s":76,"x":6,"y":0.97},{"s":76,"x":10,"y":0.99},{"s":76,"x":14,"y":0.96},{"s":76,"x":18,"y":0.98},{"s":76,"x":22,"y":1},{"s":76,"x":26,"y":0.97},{"s":76,"x":30,"y":0.99},{"s":76,"x":34,"y":1.01},{"s":76,"x":38,"y":0.98},{"s":76,"x":42,"y":1},{"s":76,"x":46,"y":1.02},{"s":76,"x":50,"y":0.99},{"s":76,"x":54,"y":1.01},{"s":76,"x":58,"y":1.04},{"s":76,"x":62,"y":1.02},{"s":76,"x":66,"y":1.05},{"s":76,"x":70,"y":1.03},{"s":76,"x":74,"y":1.06},{"s":76,"x":78,"y":1.04},{"s":76,"x":82,"y":1.07},{"s":76,"x":86,"y":1.05},{"s":76,"x":90,"y":1.08},{"s":76,"x":94,"y":1.06},{"s":76,"x":98,"y":1.09},{"s":76,"x":100,"y":1.08}
]},
"mark":{"type":"line","strokeWidth":1,"clip":true},
"encoding":{
"x":{"field":"x","type":"quantitative","scale":{"domain":[0,100],"nice":false},"axis":{"orient":"bottom","values":[0,20,40,60,80,100],"title":"Steps"}},
"y":{"field":"y","type":"quantitative","scale":{"domain":[0.6,1.5],"nice":false,"zero":false},"axis":{"orient":"left","values":[0.7,0.8,0.9,1,1.1,1.2,1.3,1.4,1.5],"format":"~g","title":"Stock values"}},
"color":{"field":"s","type":"nominal","legend":null,"scale":{"range":["#e8701e","#c8441c","#3c7452","#5ce61e","#4646d2","#ee8ccc","#4e3a8c","#78ee8c","#e8649a","#649bee","#f0a020","#66ee33","#998833","#99ee77","#dd3333","#33dd33","#3344cc","#33cccc","#77ff44","#774499","#aaff88","#ff7722","#44ee55","#222299","#ff77bb","#66ff66","#aa2222","#77aaff","#88ff33","#888822","#55ee44","#5566ff","#33ff77","#ee5522","#bbff99","#dd44aa","#66dd22","#226644","#2233bb","#77ee55","#cc2222","#99ff66","#22aaaa","#55ff33","#aabb33","#44dd66","#88ff88","#66ff44","#3355dd","#99ff55","#dd4422","#44cc44","#44bbaa","#ff88cc","#33ee22","#6644aa","#bbff77","#ee8833","#55dd55","#333399","#77ee33","#55dddd","#88ee66","#996633","#44ff66","#cc55cc","#ccee44"]}}
}},
{"data":{"values":[{"x":0,"y":1}]},
"mark":{"type":"point","opacity":0},
"encoding":{
"x":{"field":"x","type":"quantitative","scale":{"domain":[0,100],"nice":false},"axis":{"orient":"top","values":[0,20,40,60,80,100],"labels":false,"title":null}},
"y":{"field":"y","type":"quantitative","scale":{"domain":[0.6,1.5],"nice":false,"zero":false},"axis":{"orient":"right","values":[0.7,0.8,0.9,1,1.1,1.2,1.3,1.4,1.5],"labels":false,"title":null}}
}}
]
}
